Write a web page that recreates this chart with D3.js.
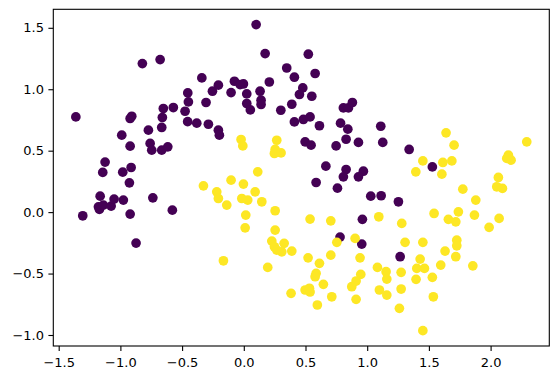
<!DOCTYPE html>
<html>
<head>
<meta charset="utf-8">
<script src="https://cdn.jsdelivr.net/npm/d3@7"></script>
<style>
  body { margin: 0; background: #fff; }
  text { font-family: "DejaVu Sans", sans-serif; }
</style>
</head>
<body>
<div id="chart"></div>
<script>
// ---------------------------- DATA ----------------------------
// class 0 (upper moon)
var purpleX = [-1.361,-1.305,-1.178,-1.170,-1.138,-1.075,-1.164,-1.051,-0.976,-1.124,
  -1.143,-0.981,-0.913,-0.927,-0.921,-0.737,-0.579,-0.873,-0.989,-0.921,
  -0.773,-0.665,-0.759,-0.746,-0.665,-0.616,-0.908,-0.921,-0.822,-0.678,
  -0.652,-0.571,-0.660,-0.476,-0.455,-0.381,-0.287,-0.206,-0.198,-0.454,
  -0.449,-0.306,-0.340,-0.254,-0.206,-0.103,-0.076,-0.003,-0.030,0.024,
  0.024,0.053,0.100,0.132,0.140,0.140,0.173,0.207,0.300,0.348,
  0.410,0.389,0.410,0.483,0.537,0.478,0.451,0.551,0.523,0.578,
  0.497,0.545,0.613,0.784,0.843,1.110,0.807,0.848,0.880,0.829,
  0.748,0.929,1.126,1.340,0.665,0.829,0.807,0.969,0.929,0.586,
  0.759,1.029,1.113,1.253,1.528,0.961,0.780,0.956,1.267];
var purpleY = [0.775,-0.030,0.043,0.022,0.057,0.049,0.130,0.106,0.098,0.407,
  0.323,0.325,0.363,0.238,-0.016,0.116,0.016,-0.252,0.626,0.537,
  0.667,0.689,0.559,0.504,0.504,0.531,0.780,0.762,1.209,1.241,
  0.843,0.851,0.770,0.821,0.736,0.724,0.715,0.667,0.626,0.970,
  0.897,0.892,1.092,0.984,1.033,0.973,1.065,1.043,1.038,0.962,
  0.884,0.832,1.526,0.984,0.911,0.876,1.290,1.059,0.829,1.173,
  1.098,0.878,0.734,0.754,0.775,1.011,0.957,0.943,1.285,1.128,
  0.572,0.545,0.703,0.724,0.675,0.699,0.848,0.848,0.892,0.593,
  0.539,0.567,0.567,0.510,0.374,0.347,0.287,0.333,0.287,0.241,
  0.195,0.130,0.133,0.084,0.368,-0.059,-0.203,-0.260,-0.363];

// class 1 (lower moon)
var yellowX = [-0.022,-0.008,0.267,0.254,0.248,0.302,0.113,-0.103,-0.003,-0.327,
  -0.219,-0.206,0.092,-0.016,0.032,0.146,-0.138,0.254,0.016,0.011,
  0.254,0.537,1.639,1.451,1.613,1.394,1.605,0.705,1.094,1.280,
  1.542,1.658,1.704,1.686,2.293,2.144,2.131,2.166,2.063,2.050,
  2.096,1.775,1.880,1.739,1.718,1.869,2.069,1.988,1.726,1.726,
  1.718,1.856,1.631,1.596,0.754,0.902,1.307,1.451,0.521,0.613,
  0.705,0.942,0.586,0.578,0.497,0.532,0.537,0.645,0.948,0.910,
  0.875,1.083,1.153,1.159,1.275,1.429,1.402,1.464,1.528,1.396,
  1.275,1.099,1.159,1.536,0.713,0.910,0.596,1.261,1.451,-0.165,
  0.194,0.227,0.248,0.267,0.308,0.327,0.389,0.383];
var yellowY = [0.591,0.539,0.585,0.510,0.477,0.482,0.328,0.260,0.228,0.214,
  0.165,0.111,0.165,0.111,0.098,0.084,0.057,0.011,-0.024,-0.128,
  -0.146,-0.057,0.645,0.417,0.404,0.328,0.309,-0.071,-0.038,-0.092,
  -0.011,-0.059,0.545,0.417,0.572,0.463,0.437,0.423,0.282,0.206,
  0.193,0.187,0.098,0.002,-0.079,-0.024,-0.051,-0.124,-0.228,-0.274,
  -0.363,-0.437,-0.317,-0.431,-0.246,-0.214,-0.246,-0.246,-0.372,-0.417,
  -0.350,-0.372,-0.498,-0.526,-0.634,-0.620,-0.650,-0.588,-0.507,-0.561,
  -0.607,-0.450,-0.485,-0.545,-0.490,-0.382,-0.458,-0.458,-0.531,-0.547,
  -0.626,-0.634,-0.675,-0.689,-0.689,-0.710,-0.756,-0.783,-0.965,-0.396,
  -0.450,-0.236,-0.282,-0.309,-0.323,-0.254,-0.317,-0.661];

var xTicks = [-1.5, -1.0, -0.5, 0.0, 0.5, 1.0, 1.5, 2.0];
var yTicks = [-1.0, -0.5, 0.0, 0.5, 1.0, 1.5];

// ---------------------------- CANVAS ----------------------------
var svgWidth = 559, svgHeight = 380;
var margin = {left: 53.3, top: 9.3, right: 9.7, bottom: 34};
var width = svgWidth - margin.left - margin.right,
    height = svgHeight - margin.top - margin.bottom;

var svg = d3.select("#chart").append("svg")
  .attr("width", svgWidth)
  .attr("height", svgHeight);

var g = svg.append("g")
  .attr("transform", `translate(${margin.left},${margin.top})`);

// points table built from the arrays
var points = purpleX.map((x, i) => ({x: x, y: purpleY[i], c: 0}))
  .concat(yellowX.map((x, i) => ({x: x, y: yellowY[i], c: 1})));

// matplotlib style 5% padding around the data
function padded(ext) {
  var p = (ext[1] - ext[0]) * 0.05;
  return [ext[0] - p, ext[1] + p];
}

var x = d3.scaleLinear()
  .domain(padded(d3.extent(points, d => d.x)))
  .range([0, width]);
var y = d3.scaleLinear()
  .domain(padded(d3.extent(points, d => d.y)))
  .range([height, 0]);

var color = d3.scaleOrdinal().domain([0, 1]).range(["#440154", "#fde725"]);

// ---------------------------- POINTS ----------------------------
g.selectAll("circle")
  .data(points)
  .enter()
  .append("circle")
    .attr("cx", d => x(d.x))
    .attr("cy", d => y(d.y))
    .attr("r", 4.85)
    .attr("fill", d => color(d.c));

// ---------------------------- AXES ----------------------------
var fmt = d3.format(".1f");

var xAxis = g.append("g")
  .attr("transform", `translate(0,${height})`)
  .call(d3.axisBottom(x).tickValues(xTicks).tickFormat(fmt).tickSize(4.9).tickPadding(6.5));

var yAxis = g.append("g")
  .call(d3.axisLeft(y).tickValues(yTicks).tickFormat(fmt).tickSize(4.9).tickPadding(4.4));

[xAxis, yAxis].forEach(function(a) {
  a.select(".domain").remove();
  a.selectAll(".tick line").attr("stroke", "#000").attr("stroke-width", 1.1);
  a.selectAll(".tick text")
    .attr("fill", "#000")
    .style("font-size", "13px")
    .style("font-family", "'DejaVu Sans', sans-serif");
});

// frame (spines)
g.append("rect")
  .attr("width", width)
  .attr("height", height)
  .attr("fill", "none")
  .attr("stroke", "#000")
  .attr("stroke-width", 1.1);
</script>
</body>
</html>
